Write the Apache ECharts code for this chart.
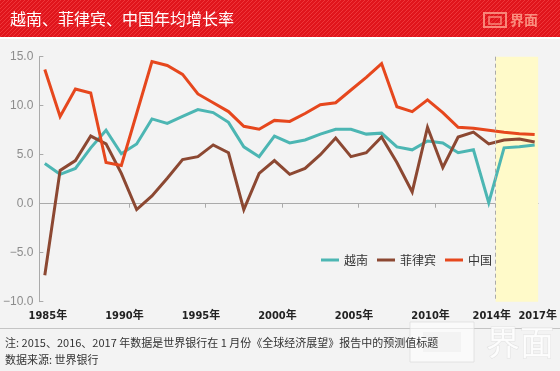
<!DOCTYPE html>
<html><head><meta charset="utf-8">
<script src="https://cdn.jsdelivr.net/npm/echarts@6/dist/echarts.min.js"></script>
<style>html,body{margin:0;padding:0;background:#fff}#c{width:560px;height:371px}</style>
</head><body><div id="c"></div>
<script>
const years = [1985,1986,1987,1988,1989,1990,1991,1992,1993,1994,1995,1996,1997,1998,1999,2000,2001,2002,2003,2004,2005,2006,2007,2008,2009,2010,2011,2012,2013,2014,2015,2016,2017];
const vietnam = [4.1,3.0,3.6,5.7,7.5,5.1,6.1,8.65,8.2,8.9,9.6,9.3,8.3,5.8,4.8,6.9,6.2,6.5,7.1,7.6,7.6,7.1,7.2,5.8,5.5,6.4,6.2,5.2,5.5,0.1,5.7,5.8,6.0];
const philippines = [-7.3,3.4,4.4,6.9,6.1,3.1,-0.6,0.8,2.6,4.5,4.8,6.0,5.2,-0.6,3.1,4.4,3.0,3.6,5.0,6.7,4.8,5.2,6.8,4.2,1.2,7.8,3.7,6.8,7.3,6.1,6.5,6.6,6.3];
const china = [13.7,8.9,11.7,11.3,4.2,3.9,9.2,14.5,14.1,13.2,11.2,10.3,9.4,7.9,7.6,8.5,8.4,9.2,10.1,10.3,11.6,12.9,14.3,9.9,9.4,10.6,9.3,7.8,7.7,7.5,7.3,7.15,7.05];
const seriesNames = ['越南','菲律宾','中国'];
const xTickYears = [1990,1995,2000,2005,2010];
const xLabelYears = [1985,1990,1995,2000,2005,2010,2014,2017];
const forecastStart = 2014;
const titleText = '越南、菲律宾、中国年均增长率';
const noteText = '注: 2015、2016、2017 年数据是世界银行在 1 月份《全球经济展望》报告中的预测值标题';
const sourceText = '数据来源: 世界银行';

const colors = ['#4cb6b3','#8c4832','#e6471d'];
const pair = arr => years.map((y,i)=>[y,arr[i]]);

// striped title bar background
const bar = document.createElement('canvas'); bar.width = 560; bar.height = 37;
const g = bar.getContext('2d');
g.fillStyle = '#e0151c'; g.fillRect(0,0,560,37);
g.strokeStyle = 'rgba(255,95,95,0.45)'; g.lineWidth = 1;
g.beginPath();
for (let s = -40; s < 620; s += 4) { g.moveTo(s, 37); g.lineTo(s + 37, 0); }
g.stroke();

const chart = echarts.init(document.getElementById('c'), null, {renderer:'canvas'});
const lineSeries = [vietnam, philippines, china].map((arr,i)=>({
  name: seriesNames[i], type:'line', data: pair(arr), xAxisIndex:0, yAxisIndex:0,
  symbol:'none', z:3, lineStyle:{width:3, color:colors[i], join:'miter'}, itemStyle:{color:colors[i]}
}));
chart.setOption({
  backgroundColor:'#f3f3f3',
  animation:false,
  color: colors,
  grid:{left:39, right:16, top:56.7, bottom:69.3, containLabel:false},
  legend:{data:seriesNames, left:321, top:254, padding:0, icon:'rect', itemWidth:18, itemHeight:3, itemGap:9,
    textStyle:{fontSize:12, color:'#333', fontFamily:'"Noto Sans CJK SC"'}},
  xAxis:[
    {type:'value', min:1984.645, max:2017.226, position:'bottom',
     axisLine:{onZero:true, lineStyle:{color:'#aaa', width:1}},
     axisTick:{show:true, length:4, customValues: xTickYears.map(y=>y+0.5), lineStyle:{color:'#aaa'}},
     axisLabel:{show:false}, splitLine:{show:false}},
    {type:'value', min:1984.645, max:2017.226, position:'bottom',
     axisLine:{show:false, onZero:false}, axisTick:{show:false}, splitLine:{show:false},
     axisLabel:{show:true, margin:9, customValues: xLabelYears.map(y=>y+0.2),
       formatter: v => Math.round(v) + '年', color:'#222', fontSize:11, fontWeight:'bold',
       fontFamily:'"Liberation Sans Narrow","DejaVu Sans Condensed","Noto Sans CJK SC"'}}
  ],
  yAxis:{type:'value', min:-10, max:15, interval:5,
    axisLine:{show:true, lineStyle:{color:'#aaa'}},
    axisTick:{show:true, inside:true, length:4, lineStyle:{color:'#aaa'}},
    splitLine:{show:false},
    axisLabel:{margin:6, color:'#8c8c8c', fontSize:12, fontFamily:'"Liberation Sans"',
      formatter: v => (v<0?'\u2212':'') + Math.abs(v).toFixed(1)}},
  series:[
    {type:'line', data:[], z:1, silent:true, xAxisIndex:0,
     markArea:{silent:true, itemStyle:{color:'#fffac9'},
       data:[[{coord:[forecastStart+0.45,15]},{coord:[2017.226,-10]}]]},
     markLine:{silent:true, symbol:'none', label:{show:false},
       lineStyle:{type:[4,3], color:'#aaa', width:1},
       data:[[{coord:[forecastStart+0.45,15]},{coord:[forecastStart+0.45,-10]}]]}},
    ...lineSeries
  ],
  graphic:[
    {type:'image', style:{image:bar, x:0, y:0, width:560, height:37}, z:-1},
    {type:'rect', shape:{x:0,y:37,width:560,height:2}, style:{fill:'#ffffff'}, z:-1},
    {type:'text', style:{x:10, y:19, text:titleText, fill:'#fff', font:'16px "Noto Sans CJK SC"', verticalAlign:'middle'}},
    {type:'rect', shape:{x:484,y:13,width:22,height:14}, style:{fill:'none', stroke:'rgba(255,170,150,0.75)', lineWidth:2}},
    {type:'rect', shape:{x:489,y:17,width:12,height:7}, style:{fill:'none', stroke:'rgba(255,170,150,0.75)', lineWidth:1.5}},
    {type:'text', style:{x:510, y:20, text:'界面', fill:'rgba(255,170,150,0.8)', font:'bold 14px "Noto Sans CJK SC"', verticalAlign:'middle'}},
    {type:'line', shape:{x1:0,y1:328.5,x2:560,y2:328.5}, style:{stroke:'#c4c4c4', lineWidth:1}},
    {type:'rect', shape:{x:410,y:322,width:64,height:40}, style:{fill:'rgba(255,255,255,0.6)', stroke:'rgba(215,215,215,0.6)', lineWidth:1}},
    {type:'rect', shape:{x:423,y:332,width:38,height:20}, style:{fill:'#f3f3f3'}},
    {type:'text', style:{x:486, y:342, text:'界面', fill:'rgba(255,255,255,0.8)', stroke:'rgba(215,215,215,0.6)', lineWidth:1, font:'34px "Noto Sans CJK SC"', verticalAlign:'middle'}},
    {type:'text', style:{x:5, y:343, text:noteText, fill:'#333', font:'11px "Noto Sans CJK SC"', verticalAlign:'middle'}},
    {type:'text', style:{x:5, y:360, text:sourceText, fill:'#333', font:'11px "Noto Sans CJK SC"', verticalAlign:'middle'}}
  ]
});
</script></body></html>
